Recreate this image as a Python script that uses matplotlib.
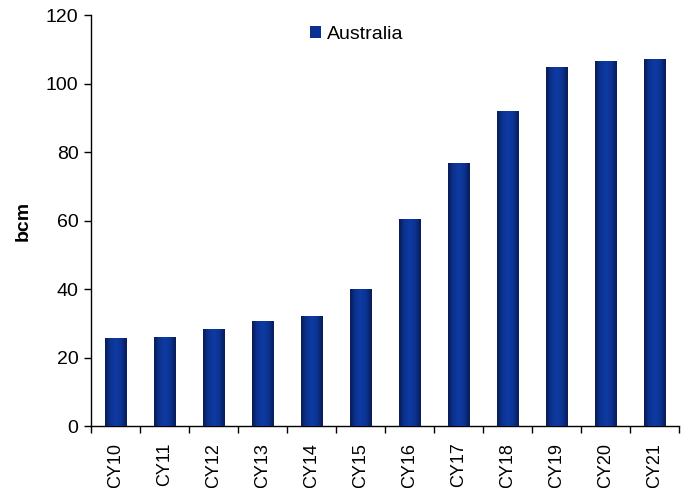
import numpy as np
import matplotlib
matplotlib.use('Agg')
import matplotlib.pyplot as plt
import matplotlib.colors as colors
from matplotlib.patches import Patch

plt.rcParams['font.family'] = ['Liberation Sans', 'DejaVu Sans']

years = ['CY10', 'CY11', 'CY12', 'CY13', 'CY14', 'CY15',
         'CY16', 'CY17', 'CY18', 'CY19', 'CY20', 'CY21']
australia = [25.7, 26.0, 28.3, 30.7, 32.1, 40.0,
             60.4, 76.8, 92.0, 104.8, 106.6, 107.2]

fig = plt.figure(figsize=(6.88, 4.88), dpi=100)
ax = fig.add_axes([0.1323, 0.127, 0.8547, 0.842])

x = np.arange(len(years))
width = 0.43
bars = ax.bar(x, australia, width=width, color='#0c2c80', zorder=2)

# horizontal shading on each bar: dark edges, brighter middle
shade = colors.LinearSegmentedColormap.from_list(
    'shade', ['#081c55', '#0c3393', '#0e3aa3', '#0c3393', '#081c55'])
grad = np.linspace(0, 1, 64).reshape(1, -1)
for b in bars:
    im = ax.imshow(grad, cmap=shade, aspect='auto', zorder=3,
                   extent=[b.get_x(), b.get_x() + b.get_width(), 0, b.get_height()])
    im.set_clip_path(b)

ax.set_xlim(-0.5, len(years) - 0.5)
ax.set_ylim(0, 120)
ax.set_yticks(range(0, 121, 20))
ax.set_xticks(x)
ax.set_xticklabels(years, rotation=90, fontsize=13)
ax.set_xticks(np.arange(-0.5, len(years)), minor=True)
ax.tick_params(axis='x', which='major', length=0, pad=12)
ax.tick_params(axis='x', which='minor', length=5, width=1, direction='out')
ax.tick_params(axis='y', length=5, width=1, direction='out', labelsize=14, pad=4)

ax.spines['top'].set_visible(False)
ax.spines['right'].set_visible(False)
ax.spines['left'].set_linewidth(1)
ax.spines['bottom'].set_linewidth(1)

ax.set_ylabel('bcm', fontsize=14, fontweight='bold', labelpad=10)

handle = Patch(facecolor='#0c3090', edgecolor='none')
ax.legend([handle], ['Australia'], loc='upper center', bbox_to_anchor=(0.452, 1.016),
          frameon=False, fontsize=14, handlelength=0.6, handleheight=0.6,
          handletextpad=0.3)

plt.savefig('out.png', dpi=100)
